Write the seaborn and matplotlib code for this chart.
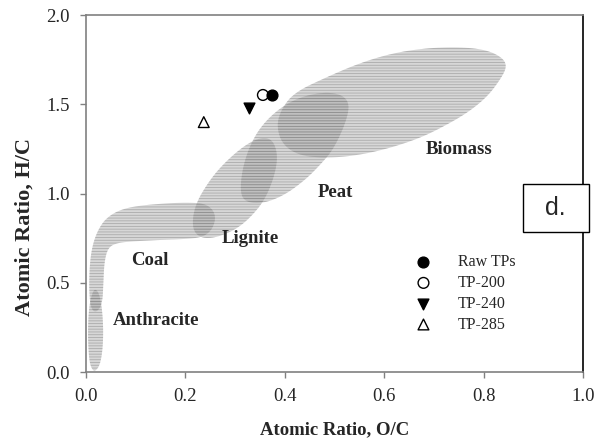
import numpy as np
import pandas as pd
import matplotlib
matplotlib.use("Agg")
import matplotlib.pyplot as plt
from matplotlib.patches import Rectangle
import seaborn as sns

# ---- Van Krevelen fuel regions: outline vertices (O/C, H/C) ----
anthracite_oc = [0.016, 0.008, 0.005, 0.004, 0.005, 0.009, 0.017, 0.027, 0.033, 0.035, 0.033, 0.027]
anthracite_hc = [0.00, 0.04, 0.12, 0.22, 0.32, 0.41, 0.47, 0.44, 0.34, 0.22, 0.11, 0.03]

coal_oc = [0.020, 0.009, 0.006, 0.008, 0.014, 0.025, 0.040, 0.065, 0.100, 0.160, 0.210, 0.245,
           0.262, 0.255, 0.235, 0.200, 0.150, 0.100, 0.065, 0.045, 0.037, 0.035, 0.033]
coal_hc = [0.33, 0.36, 0.48, 0.62, 0.72, 0.80, 0.86, 0.905, 0.93, 0.945, 0.95, 0.94,
           0.88, 0.80, 0.755, 0.745, 0.74, 0.733, 0.725, 0.70, 0.62, 0.50, 0.38]

lignite_oc = [0.213, 0.219, 0.249, 0.280, 0.320, 0.354, 0.376, 0.386, 0.380, 0.360, 0.330, 0.300, 0.260, 0.229]
lignite_hc = [0.807, 0.936, 1.076, 1.176, 1.272, 1.317, 1.300, 1.216, 1.104, 0.964, 0.863, 0.796, 0.751, 0.751]

peat_oc = [0.310, 0.314, 0.330, 0.354, 0.390, 0.431, 0.481, 0.517, 0.531, 0.521, 0.497, 0.471, 0.441, 0.400, 0.360, 0.326]
peat_hc = [0.992, 1.132, 1.272, 1.384, 1.479, 1.541, 1.569, 1.552, 1.496, 1.384, 1.244, 1.160, 1.076, 0.992, 0.947, 0.947]

biomass_oc = [0.390, 0.417, 0.485, 0.551, 0.618, 0.686, 0.753, 0.807, 0.839, 0.847, 0.833, 0.807, 0.767,
              0.718, 0.672, 0.612, 0.551, 0.491, 0.431, 0.396, 0.384]
biomass_hc = [1.457, 1.563, 1.653, 1.731, 1.787, 1.815, 1.821, 1.804, 1.759, 1.709, 1.636, 1.541, 1.451,
              1.373, 1.311, 1.255, 1.216, 1.199, 1.210, 1.272, 1.367]

# region name labels and where they sit
region_names = ["Anthracite", "Coal", "Lignite", "Peat", "Biomass"]
region_label_oc = [0.141, 0.129, 0.330, 0.501, 0.750]
region_label_hc = [0.286, 0.622, 0.750, 1.008, 1.244]

# ---- torrefied product samples ----
samples = ["Raw TPs", "TP-200", "TP-240", "TP-285"]
sample_oc = [0.374, 0.356, 0.328, 0.237]
sample_hc = [1.552, 1.552, 1.479, 1.400]
sample_marker = ["o", "o", "v", "^"]
sample_face = ["black", "none", "black", "none"]

x_ticks = [0.0, 0.2, 0.4, 0.6, 0.8, 1.0]
y_ticks = [0.0, 0.5, 1.0, 1.5, 2.0]


def smooth_outline(xs, ys, passes=3):
    """Round the corners of a closed outline (Chaikin corner cutting)."""
    pts = np.column_stack([xs, ys]).astype(float)
    for _ in range(passes):
        nxt = np.roll(pts, -1, axis=0)
        q = 0.75 * pts + 0.25 * nxt
        r = 0.25 * pts + 0.75 * nxt
        out = np.empty((2 * len(pts), 2))
        out[0::2] = q
        out[1::2] = r
        pts = out
    return pts[:, 0], pts[:, 1]


sns.set_style("white")
plt.rcParams["font.family"] = ["Liberation Serif", "DejaVu Serif"]
plt.rcParams["hatch.linewidth"] = 0.6

fig = plt.figure(figsize=(6.05, 4.48), dpi=100)
ax = fig.add_axes([0.1421, 0.1696, 0.8215, 0.7969])

regions = [(anthracite_oc, anthracite_hc), (coal_oc, coal_hc), (lignite_oc, lignite_hc),
           (peat_oc, peat_hc), (biomass_oc, biomass_hc)]
for oc, hc in regions:
    sx, sy = smooth_outline(oc, hc)
    # stippled grey fill: translucent so overlapping zones come out darker
    ax.fill(sx, sy, facecolor="#9c9c9c", alpha=0.40, edgecolor="#6a6a6a", linewidth=0,
            hatch="------", zorder=1)

for name, x, y in zip(region_names, region_label_oc, region_label_hc):
    ax.text(x, y, name, ha="center", va="center", fontsize=13.5, fontweight="bold", zorder=3)

for name, x, y, m, fc in zip(samples, sample_oc, sample_hc, sample_marker, sample_face):
    sns.scatterplot(x=[x], y=[y], marker=m, s=60, facecolor=fc, edgecolor="black",
                    linewidth=1.0, label=name, ax=ax, zorder=4)

ax.set_xlim(0, 1.0)
ax.set_ylim(0, 2.0)
ax.set_xticks(x_ticks)
ax.set_yticks(y_ticks)
ax.set_xticklabels([f"{v:.1f}" for v in x_ticks])
ax.set_yticklabels([f"{v:.1f}" for v in y_ticks])
ax.tick_params(axis="both", which="both", direction="out", length=4.5, width=1.0,
               color="#808080", labelsize=13.5, pad=7, bottom=True, left=True)

for side in ["left", "bottom", "top"]:
    ax.spines[side].set_color("#808080")
    ax.spines[side].set_linewidth(1.2)
ax.spines["right"].set_color("black")
ax.spines["right"].set_linewidth(1.2)

ax.set_xlabel("Atomic Ratio, O/C", fontsize=13.5, fontweight="bold", labelpad=12)
ax.set_ylabel("Atomic Ratio, H/C", fontsize=16, fontweight="bold", va="center")
ax.yaxis.set_label_coords(-0.123, 0.405)

leg = ax.legend(loc="center left", bbox_to_anchor=(0.663, 0.22), frameon=False,
                fontsize=11.5, handlelength=1.0, handletextpad=1.65, labelspacing=0.3,
                borderpad=0, borderaxespad=0)

# panel tag
ax.add_patch(Rectangle((0.879, 0.392), 0.133, 0.135, transform=ax.transAxes,
                       facecolor="white", edgecolor="black", linewidth=1.0,
                       clip_on=False, zorder=5))
ax.text(0.945, 0.46, "d.", transform=ax.transAxes, ha="center", va="center",
        fontsize=18, family="Liberation Sans", zorder=6)

fig.savefig("out.png", dpi=100)
